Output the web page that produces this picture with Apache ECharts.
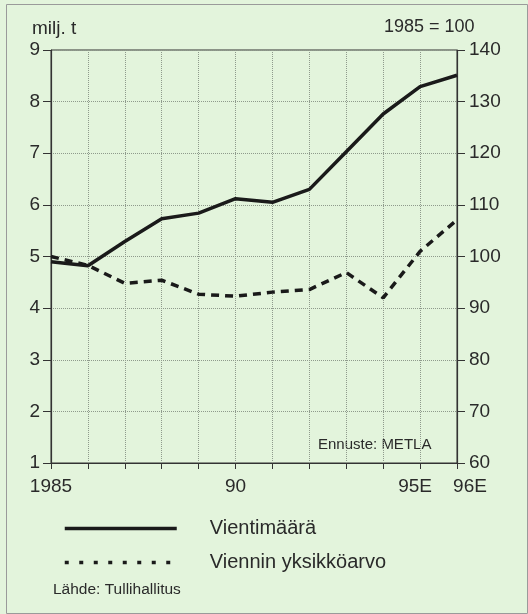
<!DOCTYPE html>
<html>
<head>
<meta charset="utf-8">
<style>
html,body{margin:0;padding:0;background:#e3f4dc;}
#c{width:528px;height:614px;}
</style>
<script src="https://cdn.jsdelivr.net/npm/echarts@6/dist/echarts.min.js"></script>
</head>
<body>
<div id="c"></div>
<script>
var years = ['1985','1986','1987','1988','1989','1990','1991','1992','1993','1994','1995','1996'];
var tickLabels = ['1985','','','','','90','','','','','95E','96E'];
var vientimaara = [4.90, 4.82, 5.29, 5.73, 5.84, 6.12, 6.05, 6.30, 7.03, 7.76, 8.29, 8.51];
var yksikkoarvo = [100.0, 98.3, 94.8, 95.4, 92.7, 92.3, 93.1, 93.6, 96.9, 92.0, 101.0, 107.1];
var leftTicks = [1, 9, 1];
var rightTicks = [60, 140, 10];

var FONT = '"Liberation Sans", Arial, Helvetica, sans-serif';
var TXT = '#2a2a2a';
var chart = echarts.init(document.getElementById('c'), null, {renderer: 'canvas'});
chart.setOption({
  backgroundColor: '#e3f4dc',
  textStyle: {fontFamily: FONT, color: TXT},
  grid: {left: 51, top: 50, width: 406, height: 413, show: true, borderColor: '#333', borderWidth: 1, backgroundColor: 'transparent'},
  xAxis: [{
    type: 'category', data: years, boundaryGap: false,
    axisLine: {lineStyle: {color: '#333', width: 1.2}},
    axisTick: {show: true, interval: 0, length: 6, lineStyle: {color: '#333'}},
    axisLabel: {
      interval: 0, margin: 14, fontSize: 19, color: TXT, fontFamily: FONT,
      formatter: function (v, i) {
        var t = tickLabels[i];
        if (i === years.length - 1) return '{s|' + t + '}';
        if (i === years.length - 2) return '{p|' + t + '}';
        return t;
      },
      rich: {
        s: {fontSize: 19, fontFamily: FONT, color: TXT, padding: [0, 0, 0, 26]},
        p: {fontSize: 19, fontFamily: FONT, color: TXT, padding: [0, 10, 0, 0]}
      }
    },
    splitLine: {show: true, interval: 0, lineStyle: {color: '#8f9a8c', width: 1, type: [1, 1]}}
  }],
  yAxis: [{
    type: 'value', min: leftTicks[0], max: leftTicks[1], interval: leftTicks[2], position: 'left',
    axisLine: {show: true, lineStyle: {color: '#333', width: 1.2}},
    axisTick: {show: true, length: 8, lineStyle: {color: '#333'}},
    axisLabel: {fontSize: 19, color: TXT, margin: 11, fontFamily: FONT},
    splitLine: {show: true, lineStyle: {color: '#8f9a8c', width: 1, type: [1, 1]}}
  }, {
    type: 'value', min: rightTicks[0], max: rightTicks[1], interval: rightTicks[2], position: 'right',
    axisLine: {show: true, lineStyle: {color: '#333', width: 1.2}},
    axisTick: {show: true, length: 8, lineStyle: {color: '#333'}},
    axisLabel: {fontSize: 19, color: TXT, margin: 12, fontFamily: FONT},
    splitLine: {show: false}
  }],
  legend: {
    orient: 'vertical', left: 63, top: 518, padding: 0, itemWidth: 112, itemHeight: 14, itemGap: 13,
    selectedMode: false,
    itemStyle: {opacity: 0},
    textStyle: {fontSize: 20, color: TXT, fontFamily: FONT, padding: [0, 0, 0, 28], lineHeight: 21},
    data: [
      {name: 'Vientimäärä', itemStyle: {opacity: 0}, lineStyle: {width: 3.5, color: '#1a1a1a', type: 'solid'}},
      {name: 'Viennin yksikköarvo', itemStyle: {opacity: 0}, lineStyle: {width: 3.5, color: '#1a1a1a', type: [4, 10.5]}}
    ]
  },
  series: [{
    name: 'Vientimäärä', type: 'line', yAxisIndex: 0, data: vientimaara,
    symbol: 'none', symbolSize: 0, lineStyle: {width: 3.5, color: '#1a1a1a'}, itemStyle: {color: '#1a1a1a'}, z: 3
  }, {
    name: 'Viennin yksikköarvo', type: 'line', yAxisIndex: 1, data: yksikkoarvo,
    symbol: 'none', symbolSize: 0, lineStyle: {width: 3.5, color: '#1a1a1a', type: [8, 6]}, itemStyle: {color: '#1a1a1a'}, z: 2
  }],
  graphic: [
    {type: 'rect', left: 4, top: 2, shape: {width: 521, height: 609}, style: {fill: 'none', stroke: '#9a9a9a', lineWidth: 1}, silent: true},
    {type: 'text', left: 32, top: 19, style: {text: 'milj. t', fontSize: 19, fontFamily: FONT, fill: TXT}},
    {type: 'text', left: 384, top: 18, style: {text: '1985 = 100', fontSize: 18, fontFamily: FONT, fill: TXT}},
    {type: 'text', left: 318, top: 437, style: {text: 'Ennuste: METLA', fontSize: 15, fontFamily: FONT, fill: TXT}},
    {type: 'text', left: 53, top: 582, style: {text: 'Lähde: Tullihallitus', fontSize: 15.5, fontFamily: FONT, fill: TXT}}
  ]
});
</script>
</body>
</html>
